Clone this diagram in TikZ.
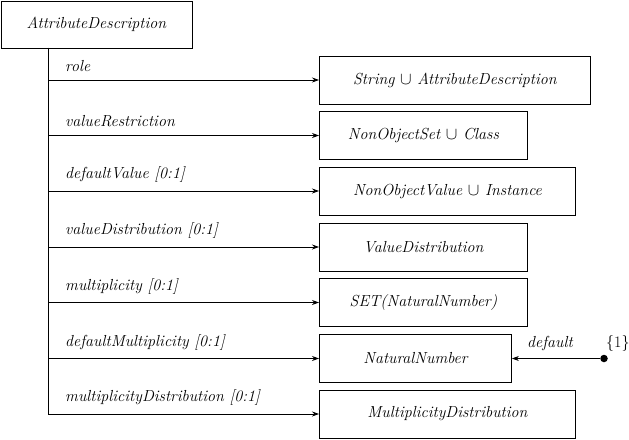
\documentclass[tikz,border=0pt]{standalone}
\usetikzlibrary{arrows.meta}
\begin{document}
\begin{tikzpicture}[x=1pt,y=-1pt,
  every node/.style={font=\fontsize{16}{18}\selectfont\itshape},
  cls/.style={draw,line width=0.9pt,minimum height=48pt,inner sep=0pt,anchor=west},
  lbl/.style={anchor=south west,inner sep=0pt},
  conn/.style={line width=0.8pt,-{Stealth[length=7pt,width=5pt]}}]
\useasboundingbox (0,0) rectangle (629,439);
\node[draw,line width=0.9pt,minimum width=191pt,minimum height=47pt,inner sep=0pt,anchor=north west] (ad) at (0.5,0.5) {AttributeDescription};
\node[cls,minimum width=271pt] (b1) at (319,80) {String $\cup$ AttributeDescription};
\node[cls,minimum width=208pt] (b2) at (319,135.5) {NonObjectSet $\cup$ Class};
\node[cls,minimum width=256pt] (b3) at (319,191) {NonObjectValue $\cup$ Instance};
\node[cls,minimum width=208pt] (b4) at (319,247) {ValueDistribution};
\node[cls,minimum width=208pt] (b5) at (319,302.5) {SET(NaturalNumber)};
\node[cls,minimum width=192pt] (b6) at (319,358.5) {NaturalNumber};
\node[cls,minimum width=256pt] (b7) at (319,414) {MultiplicityDistribution};
\coordinate (top) at (48,47.5);
\coordinate (bot) at (48,414);
\draw[line width=0.8pt] (top) -- (bot);
\coordinate (c1) at (48,80);
\coordinate (c2) at (48,135.5);
\coordinate (c3) at (48,191);
\coordinate (c4) at (48,247);
\coordinate (c5) at (48,302.5);
\coordinate (c6) at (48,358.5);
\coordinate (c7) at (48,414);
\draw[conn] (c1) -- (b1.west);
\draw[conn] (c2) -- (b2.west);
\draw[conn] (c3) -- (b3.west);
\draw[conn] (c4) -- (b4.west);
\draw[conn] (c5) -- (b5.west);
\draw[conn] (c6) -- (b6.west);
\draw[conn] (c7) -- (b7.west);
\node[lbl] (l1) at (65,72) {role};
\node[lbl] (l2) at (65,127.5) {valueRestriction};
\node[lbl] (l3) at (65,183) {defaultValue [0:1]};
\node[lbl] (l4) at (65,239) {valueDistribution [0:1]};
\node[lbl] (l5) at (65,294.5) {multiplicity [0:1]};
\node[lbl] (l6) at (65,350.5) {defaultMultiplicity [0:1]};
\node[lbl] (l7) at (65,406) {multiplicityDistribution [0:1]};
\node[circle,fill,inner sep=0pt,minimum size=7.5pt] (dot) at (604,358.5) {};
\draw[conn] (dot) -- (b6.east);
\node[lbl] (dl) at (527,351) {default};
\node[lbl,font=\fontsize{16}{18}\selectfont\upshape] (one) at (606,352) {\{1\}};
\end{tikzpicture}
\end{document}
